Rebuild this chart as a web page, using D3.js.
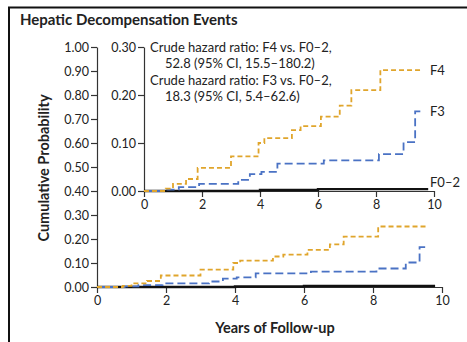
<!DOCTYPE html>
<html>
<head>
<meta charset="utf-8">
<script src="https://cdn.jsdelivr.net/npm/d3@7"></script>
<style>
  body { margin: 0; background: #fff; }
  svg text { font-family: Lato, "Open Sans", sans-serif; fill: #222; }
  .axis path, .axis line { stroke: #333; stroke-width: 1.2; }
  .axis text { font-size: 12.5px; }
  .title { font-size: 15px; font-weight: bold; }
  .label { font-size: 14.5px; font-weight: bold; }
  .note { font-size: 13px; }
</style>
</head>
<body>
<svg width="467" height="342"></svg>
<script>
// step points [years, cumulative probability]
const years = [0, 2, 4, 6, 8, 10];
const mainTicks = [0, 0.1, 0.2, 0.3, 0.4, 0.5, 0.6, 0.7, 0.8, 0.9, 1.0];
const insetTicks = [0, 0.1, 0.2, 0.3];

const f4 = [[0, 0], [0.75, 0.005], [1.0, 0.015], [1.45, 0.025], [1.85, 0.048], [3.0, 0.072],
  [3.95, 0.1], [4.15, 0.11], [5.1, 0.127], [5.4, 0.135], [6.1, 0.155], [6.75, 0.178],
  [7.15, 0.21], [8.15, 0.252], [9.6, 0.252]];
const f3 = [[0, 0], [0.8, 0.003], [1.2, 0.008], [1.9, 0.015], [3.25, 0.023], [3.65, 0.035],
  [4.05, 0.04], [4.6, 0.057], [6.2, 0.064], [8.1, 0.077], [8.95, 0.102], [9.35, 0.166],
  [9.6, 0.166]];
const f02 = [[0, 0], [4.0, 0.002], [6.0, 0.004], [9.8, 0.004]];

const groups = ['F4', 'F3', 'F0\u20132'];
const series = [f4, f3, f02];
const colors = ['#e0a52c', '#4a72c4', '#111'];
const dashes = ['5,3', '8,4', null];
const widths = [1.8, 1.8, 2.4];

const svg = d3.select('svg');

// frame
svg.append('path')
  .attr('d', 'M9,342 V7.5 H467')
  .attr('fill', 'none')
  .attr('stroke', '#111')
  .attr('stroke-width', 2);

svg.append('text')
  .attr('class', 'title')
  .attr('x', 20)
  .attr('y', 25)
  .text('Hepatic Decompensation Events');

// main plot
const x = d3.scaleLinear().domain([0, 10]).range([97, 442]);
const y = d3.scaleLinear().domain([0, 1]).range([287, 47]);

// inset plot
const xi = d3.scaleLinear().domain([0, 10]).range([144, 434]);
const yi = d3.scaleLinear().domain([0, 0.3]).range([191, 47]);

const fmt = d3.format('.2f');

function drawAxes(xs, ys, yTicks) {
  svg.append('g')
    .attr('class', 'axis')
    .attr('transform', `translate(0, ${ys(0)})`)
    .call(d3.axisBottom(xs).tickValues(years).tickSize(6).tickSizeOuter(0).tickPadding(3));
  svg.append('g')
    .attr('class', 'axis')
    .attr('transform', `translate(${xs(0)}, 0)`)
    .call(d3.axisLeft(ys).tickValues(yTicks).tickFormat(fmt).tickSize(6).tickSizeOuter(0).tickPadding(2));
}

drawAxes(x, y, mainTicks);
drawAxes(xi, yi, insetTicks);

function drawLines(xs, ys) {
  const line = d3.line()
    .x((d) => xs(d[0]))
    .y((d) => ys(d[1]))
    .curve(d3.curveStepAfter);
  // F0-2 first, then F3 and F4 on top
  [2, 1, 0].forEach((i) => {
    svg.append('path')
      .attr('d', line(series[i]))
      .attr('fill', 'none')
      .attr('stroke', colors[i])
      .attr('stroke-width', widths[i])
      .attr('stroke-dasharray', dashes[i]);
  });
}

drawLines(x, y);
drawLines(xi, yi);

// curve labels in inset
const labelPos = [[430, 75], [430, 116], [430, 187]];
groups.forEach((g, i) => {
  svg.append('text')
    .attr('class', 'note')
    .attr('x', labelPos[i][0])
    .attr('y', labelPos[i][1])
    .text(g);
});

// hazard ratio notes
const notes = [
  ['Crude hazard ratio: F4 vs. F0\u20132,', 150, 52],
  ['52.8 (95% CI, 15.5\u2013180.2)', 165, 68],
  ['Crude hazard ratio: F3 vs. F0\u20132,', 150, 85],
  ['18.3 (95% CI, 5.4\u201362.6)', 165, 101]
];
notes.forEach((n) => {
  svg.append('text')
    .attr('class', 'note')
    .attr('x', n[1])
    .attr('y', n[2])
    .text(n[0]);
});

svg.append('text')
  .attr('class', 'label')
  .attr('x', 275)
  .attr('y', 333)
  .attr('text-anchor', 'middle')
  .text('Years of Follow-up');

svg.append('text')
  .attr('class', 'label')
  .attr('transform', 'translate(49, 168) rotate(-90)')
  .attr('text-anchor', 'middle')
  .text('Cumulative Probability');
</script>
</body>
</html>
